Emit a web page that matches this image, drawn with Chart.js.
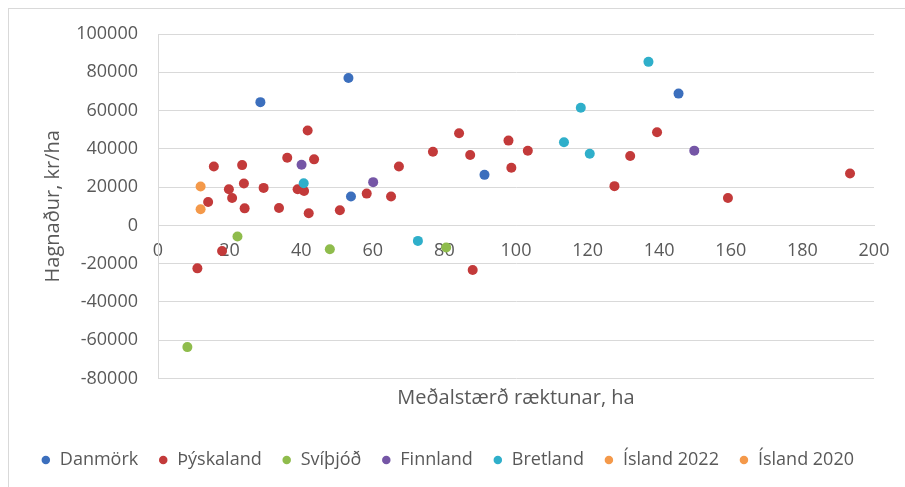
<!DOCTYPE html>
<html>
<head>
<meta charset="utf-8">
<script src="https://cdn.jsdelivr.net/npm/chart.js@4"></script>
<style>
  html, body { margin: 0; padding: 0; background: #fff; }
  #wrap { position: relative; width: 905px; height: 487px; overflow: hidden; }
  #frame { position: absolute; left: 8px; top: 8px; width: 920px; height: 500px; border: 1px solid #d9d9d9; }
  canvas { position: absolute; left: 0; top: 0; }
</style>
</head>
<body>
<div id="wrap">
  <div id="frame"></div>
  <canvas id="chart" width="905" height="487"></canvas>
</div>
<script>
// ── Data (meðalstærð ræktunar í ha, hagnaður í kr/ha) ─────────
const SERIES_NAMES = ['Danmörk', 'Þýskaland', 'Svíþjóð', 'Finnland', 'Bretland', 'Ísland 2022', 'Ísland 2020'];
const SERIES_COLORS = ['#3c6fbd', '#c33a3a', '#8fbc4c', '#7556a6', '#2fafca', '#f4994a', '#f4994a'];

const danmorkX = [28.6, 53.2, 53.9, 91.2, 145.4];
const danmorkY = [64400, 77050, 15050, 26400, 68850];

const thyskalandX = [11.0, 14.0, 15.6, 17.9, 19.8, 20.7, 23.5, 24.0, 24.2, 29.5, 33.8, 36.1, 39.0, 40.8, 41.8, 42.1, 43.6,
  50.8, 58.3, 65.1, 67.3, 76.8, 84.1, 87.2, 87.9, 97.9, 98.7, 103.3, 127.5, 131.9, 139.4, 159.2, 193.3];
const thyskalandY = [-22450, 12250, 30800, -13350, 18900, 14350, 31500, 21900, 8900, 19600, 9100, 35350, 18900, 18000, 49550, 6300, 34500,
  7900, 16600, 15050, 30800, 38500, 48150, 36800, -23300, 44300, 30100, 39000, 20500, 36250, 48650, 14350, 27100];

const svithjodX = [8.2, 22.2, 48.0, 80.5];
const svithjodY = [-63600, -5800, -12450, -11550];

const finnlandX = [40.1, 60.1, 149.8];
const finnlandY = [31700, 22600, 39050];

const bretlandX = [40.7, 72.6, 113.4, 118.1, 120.6, 137.0];
const bretlandY = [22050, -8100, 43400, 61450, 37450, 85450];

const island2022X = [11.9];
const island2022Y = [20300];

const island2020X = [11.9];
const island2020Y = [8400];

const X_TICKS = { min: 0, max: 200, step: 20 };
const Y_TICKS = { min: -80000, max: 100000, step: 20000 };

// ── Build datasets ─────────────────────────────────────────────
const seriesXY = [
  [danmorkX, danmorkY],
  [thyskalandX, thyskalandY],
  [svithjodX, svithjodY],
  [finnlandX, finnlandY],
  [bretlandX, bretlandY],
  [island2022X, island2022Y],
  [island2020X, island2020Y],
];

const datasets = seriesXY.map(([xs, ys], i) => ({
  label: SERIES_NAMES[i],
  data: xs.map((x, j) => ({ x, y: ys[j] })),
  backgroundColor: SERIES_COLORS[i],
  borderColor: SERIES_COLORS[i],
  pointRadius: 5,
  pointBorderWidth: 0,
  pointHoverRadius: 6,
  order: seriesXY.length - i,   // later series drawn on top, like Excel
}));

const GREY = '#595959';
const GRID = '#d9d9d9';
Chart.defaults.font.family = "'Open Sans', sans-serif";
Chart.defaults.color = GREY;

new Chart(document.getElementById('chart'), {
  type: 'scatter',
  data: { datasets },
  options: {
    responsive: false,
    animation: false,
    devicePixelRatio: 1,
    layout: { padding: { top: 34, right: 31, bottom: 8, left: 0 } },
    plugins: {
      legend: {
        position: 'bottom',
        align: 'end',
        labels: {
          usePointStyle: true,
          pointStyle: 'circle',
          boxWidth: 10,
          boxHeight: 6,
          padding: 20,
          color: GREY,
          font: { size: 18 },
          sort: (a, b) => a.datasetIndex - b.datasetIndex,
        },
      },
      title: {
        display: true,
        position: 'bottom',
        fullSize: false,
        weight: 500,
        text: 'Meðalstærð ræktunar, ha',
        color: GREY,
        font: { size: 20, weight: 'normal' },
        padding: { top: 7.5, bottom: 21 },
      },
      tooltip: { enabled: true },
    },
    scales: {
      x: {
        type: 'linear',
        position: { y: 0 },
        min: X_TICKS.min,
        max: X_TICKS.max,
        ticks: { stepSize: X_TICKS.step, padding: 7, color: GREY, font: { size: 18 }, callback: v => String(v) },
        grid: { display: false },
        border: { display: true, color: GRID },
      },
      y: {
        min: Y_TICKS.min,
        max: Y_TICKS.max,
        ticks: { stepSize: Y_TICKS.step, padding: 20, color: GREY, font: { size: 18 }, callback: v => String(v) },
        grid: { color: GRID, drawTicks: false },
        border: { display: true, color: GRID },
        title: {
          display: true,
          text: 'Hagnaður, kr/ha',
          color: GREY,
          font: { size: 20 },
          padding: { top: 41, bottom: 0 },
        },
        afterFit: s => { s.width = 158; },
      },
    },
  },
});
</script>
</body>
</html>
